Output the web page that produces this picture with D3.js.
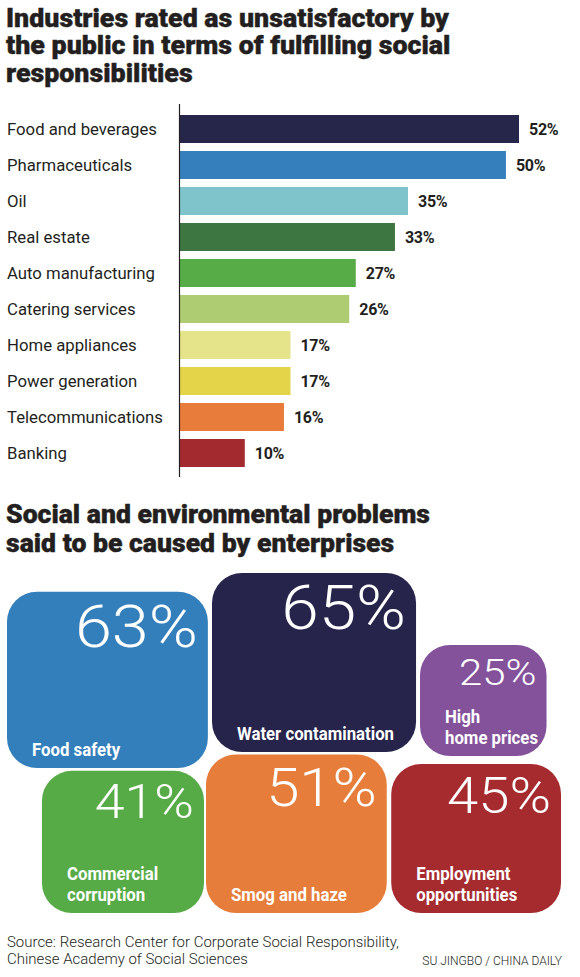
<!DOCTYPE html>
<html><head><meta charset="utf-8">
<script src="https://cdn.jsdelivr.net/npm/d3@7"></script>
<style>body{margin:0;background:#fff} svg{display:block}</style>
</head><body>
<script>
// ---------- data ----------
const title1 = ["Industries rated as unsatisfactory by", "the public in terms of fulfilling social", "responsibilities"];
const industries = ["Food and beverages", "Pharmaceuticals", "Oil", "Real estate", "Auto manufacturing", "Catering services", "Home appliances", "Power generation", "Telecommunications", "Banking"];
const industryValues = [52, 50, 35, 33, 27, 26, 17, 17, 16, 10];
const industryColors = ["#26264a", "#3580bc", "#80c4cb", "#3e7642", "#57ac47", "#aecd73", "#e6e48a", "#e4d44a", "#e87c3a", "#a32b30"];

const title2 = ["Social and environmental problems", "said to be caused by enterprises"];
const problems = [["Food safety"], ["Water contamination"], ["High", "home prices"], ["Commercial", "corruption"], ["Smog and haze"], ["Employment", "opportunities"]];
const problemValues = [63, 65, 25, 41, 51, 45];
const problemColors = ["#337fbc", "#26244a", "#83529b", "#57ab47", "#e67d3a", "#a52b2f"];

const sourceLines = ["Source: Research Center for Corporate Social Responsibility,", "Chinese Academy of Social Sciences"];
const credit = "SU JINGBO / CHINA DAILY";

// ---------- layout ----------
const W = 580, H = 977;
const ink = "#231f20";
const FONT = "Roboto, 'Open Sans', 'Liberation Sans', sans-serif";

const svg = d3.select("body").append("svg").attr("width", W).attr("height", H);

// fit a group of text elements: scale all by factor that makes the first one = target width
function fitGroup(sel, target) {
  const nodes = sel.nodes();
  if (!nodes.length) return;
  const f = target / nodes[0].getComputedTextLength();
  nodes.forEach(n => {
    const w = n.getComputedTextLength();
    d3.select(n).attr("textLength", w * f).attr("lengthAdjust", "spacingAndGlyphs");
  });
}

// Title 1
const t1 = svg.append("g").selectAll("text").data(title1).join("text")
  .attr("x", 6).attr("y", (d, i) => 26.5 + i * 27.5)
  .attr("font-family", FONT).attr("font-weight", 900).attr("font-size", 25)
  .attr("fill", ink).attr("stroke", ink).attr("stroke-width", 0.4).text(d => d);
fitGroup(t1, 443);

// Bar chart
const x = d3.scaleLinear().domain([0, 52]).range([179.5, 519]);
const y = d3.scaleBand().domain(industries).range([111, 471]).paddingInner(8 / 36).paddingOuter(4 / 36);

const bars = svg.append("g");
bars.selectAll("rect").data(industries).join("rect")
  .attr("x", x(0)).attr("y", d => y(d))
  .attr("width", (d, i) => x(industryValues[i]) - x(0))
  .attr("height", y.bandwidth())
  .attr("fill", (d, i) => industryColors[i]);

const yAxis = d3.axisLeft(y).tickSize(0).tickPadding(0);
const axisG = svg.append("g").attr("transform", `translate(${x(0)},0)`).call(yAxis);
axisG.select(".domain").attr("d", `M0,104V477`).attr("stroke", ink).attr("stroke-width", 1.2);
axisG.selectAll(".tick text").remove();

const labels = svg.append("g").selectAll("text").data(industries).join("text")
  .attr("x", 7).attr("y", d => y(d) + y.bandwidth() / 2 + 6)
  .attr("font-family", FONT).attr("font-weight", 400).attr("font-size", 17)
  .attr("fill", ink).text(d => d);
fitGroup(labels, 150);

svg.append("g").selectAll("text").data(industries).join("text")
  .attr("x", (d, i) => x(industryValues[i]) + 10)
  .attr("y", d => y(d) + y.bandwidth() / 2 + 5.5)
  .attr("font-family", FONT).attr("font-weight", 700).attr("font-size", 16)
  .attr("fill", ink).attr("letter-spacing", -0.3)
  .text((d, i) => industryValues[i] + "%");

// Title 2
const t2 = svg.append("g").selectAll("text").data(title2).join("text")
  .attr("x", 6).attr("y", (d, i) => 523 + i * 28.5)
  .attr("font-family", FONT).attr("font-weight", 900).attr("font-size", 25)
  .attr("fill", ink).attr("stroke", ink).attr("stroke-width", 0.4).text(d => d);
fitGroup(t2, 424);

// Boxes: area proportional to value
const hScale = d3.scaleSqrt().domain([0, 100]).range([0, 222]);
const aspect = 1.14;
const anchors = [
  { x: 7, y: 768, side: "left" },
  { x: 212, y: 752, side: "left" },
  { x: 420, y: 756, side: "left" },
  { x: 204, y: 913, side: "right" },
  { x: 206, y: 913, side: "left" },
  { x: 561, y: 913, side: "right" }
];
const boxes = problems.map((p, i) => {
  const h = hScale(problemValues[i]), w = h * aspect;
  const a = anchors[i];
  const x0 = a.side === "left" ? a.x : a.x - w;
  return { lines: p, v: problemValues[i], c: problemColors[i], x0, y0: a.y - h, w, h };
});

const bg = svg.append("g").selectAll("g").data(boxes).join("g");
bg.append("rect")
  .attr("x", d => d.x0).attr("y", d => d.y0).attr("width", d => d.w).attr("height", d => d.h)
  .attr("rx", 30).attr("ry", 30).attr("fill", d => d.c);
const nums = bg.append("text").attr("class", "num")
  .attr("x", d => d.x0 + d.w - 10)
  .attr("y", d => d.y0 + 13 + 0.711 * d.h * 0.34)
  .attr("text-anchor", "end")
  .attr("font-family", FONT).attr("font-weight", 300)
  .attr("font-size", d => d.h * 0.34)
  .attr("fill", "#fff").text(d => d.v + "%");
nums.each(function () {
  const w = this.getComputedTextLength();
  d3.select(this).attr("textLength", w * 1.11).attr("lengthAdjust", "spacingAndGlyphs");
});
const boxLabels = bg.selectAll("text.lab").data(d => d.lines.map((l, j) => ({ l, j, n: d.lines.length, b: d })))
  .join("text").attr("class", "lab")
  .attr("x", d => d.b.x0 + 25)
  .attr("y", d => d.b.y0 + d.b.h - 12 - (d.n - 1 - d.j) * 21)
  .attr("font-family", FONT).attr("font-weight", 700).attr("font-size", 18.5)
  .attr("fill", "#fff").text(d => d.l);
// condense all box labels using "Water contamination" as reference
{
  const ref = boxLabels.filter(d => d.l === "Water contamination").node();
  const f = 157 / ref.getComputedTextLength();
  boxLabels.each(function () {
    const w = this.getComputedTextLength();
    d3.select(this).attr("textLength", w * f).attr("lengthAdjust", "spacingAndGlyphs");
  });
}

// Source & credit
const src = svg.append("g").selectAll("text").data(sourceLines).join("text")
  .attr("x", 7).attr("y", (d, i) => 947 + i * 17)
  .attr("font-family", FONT).attr("font-weight", 300).attr("font-size", 14.5)
  .attr("fill", ink).text(d => d);
fitGroup(src, 392);

svg.append("text").attr("x", 562).attr("y", 965).attr("text-anchor", "end")
  .attr("font-family", FONT).attr("font-weight", 300).attr("font-size", 12)
  .attr("fill", ink).text(credit);
</script>
</body></html>
